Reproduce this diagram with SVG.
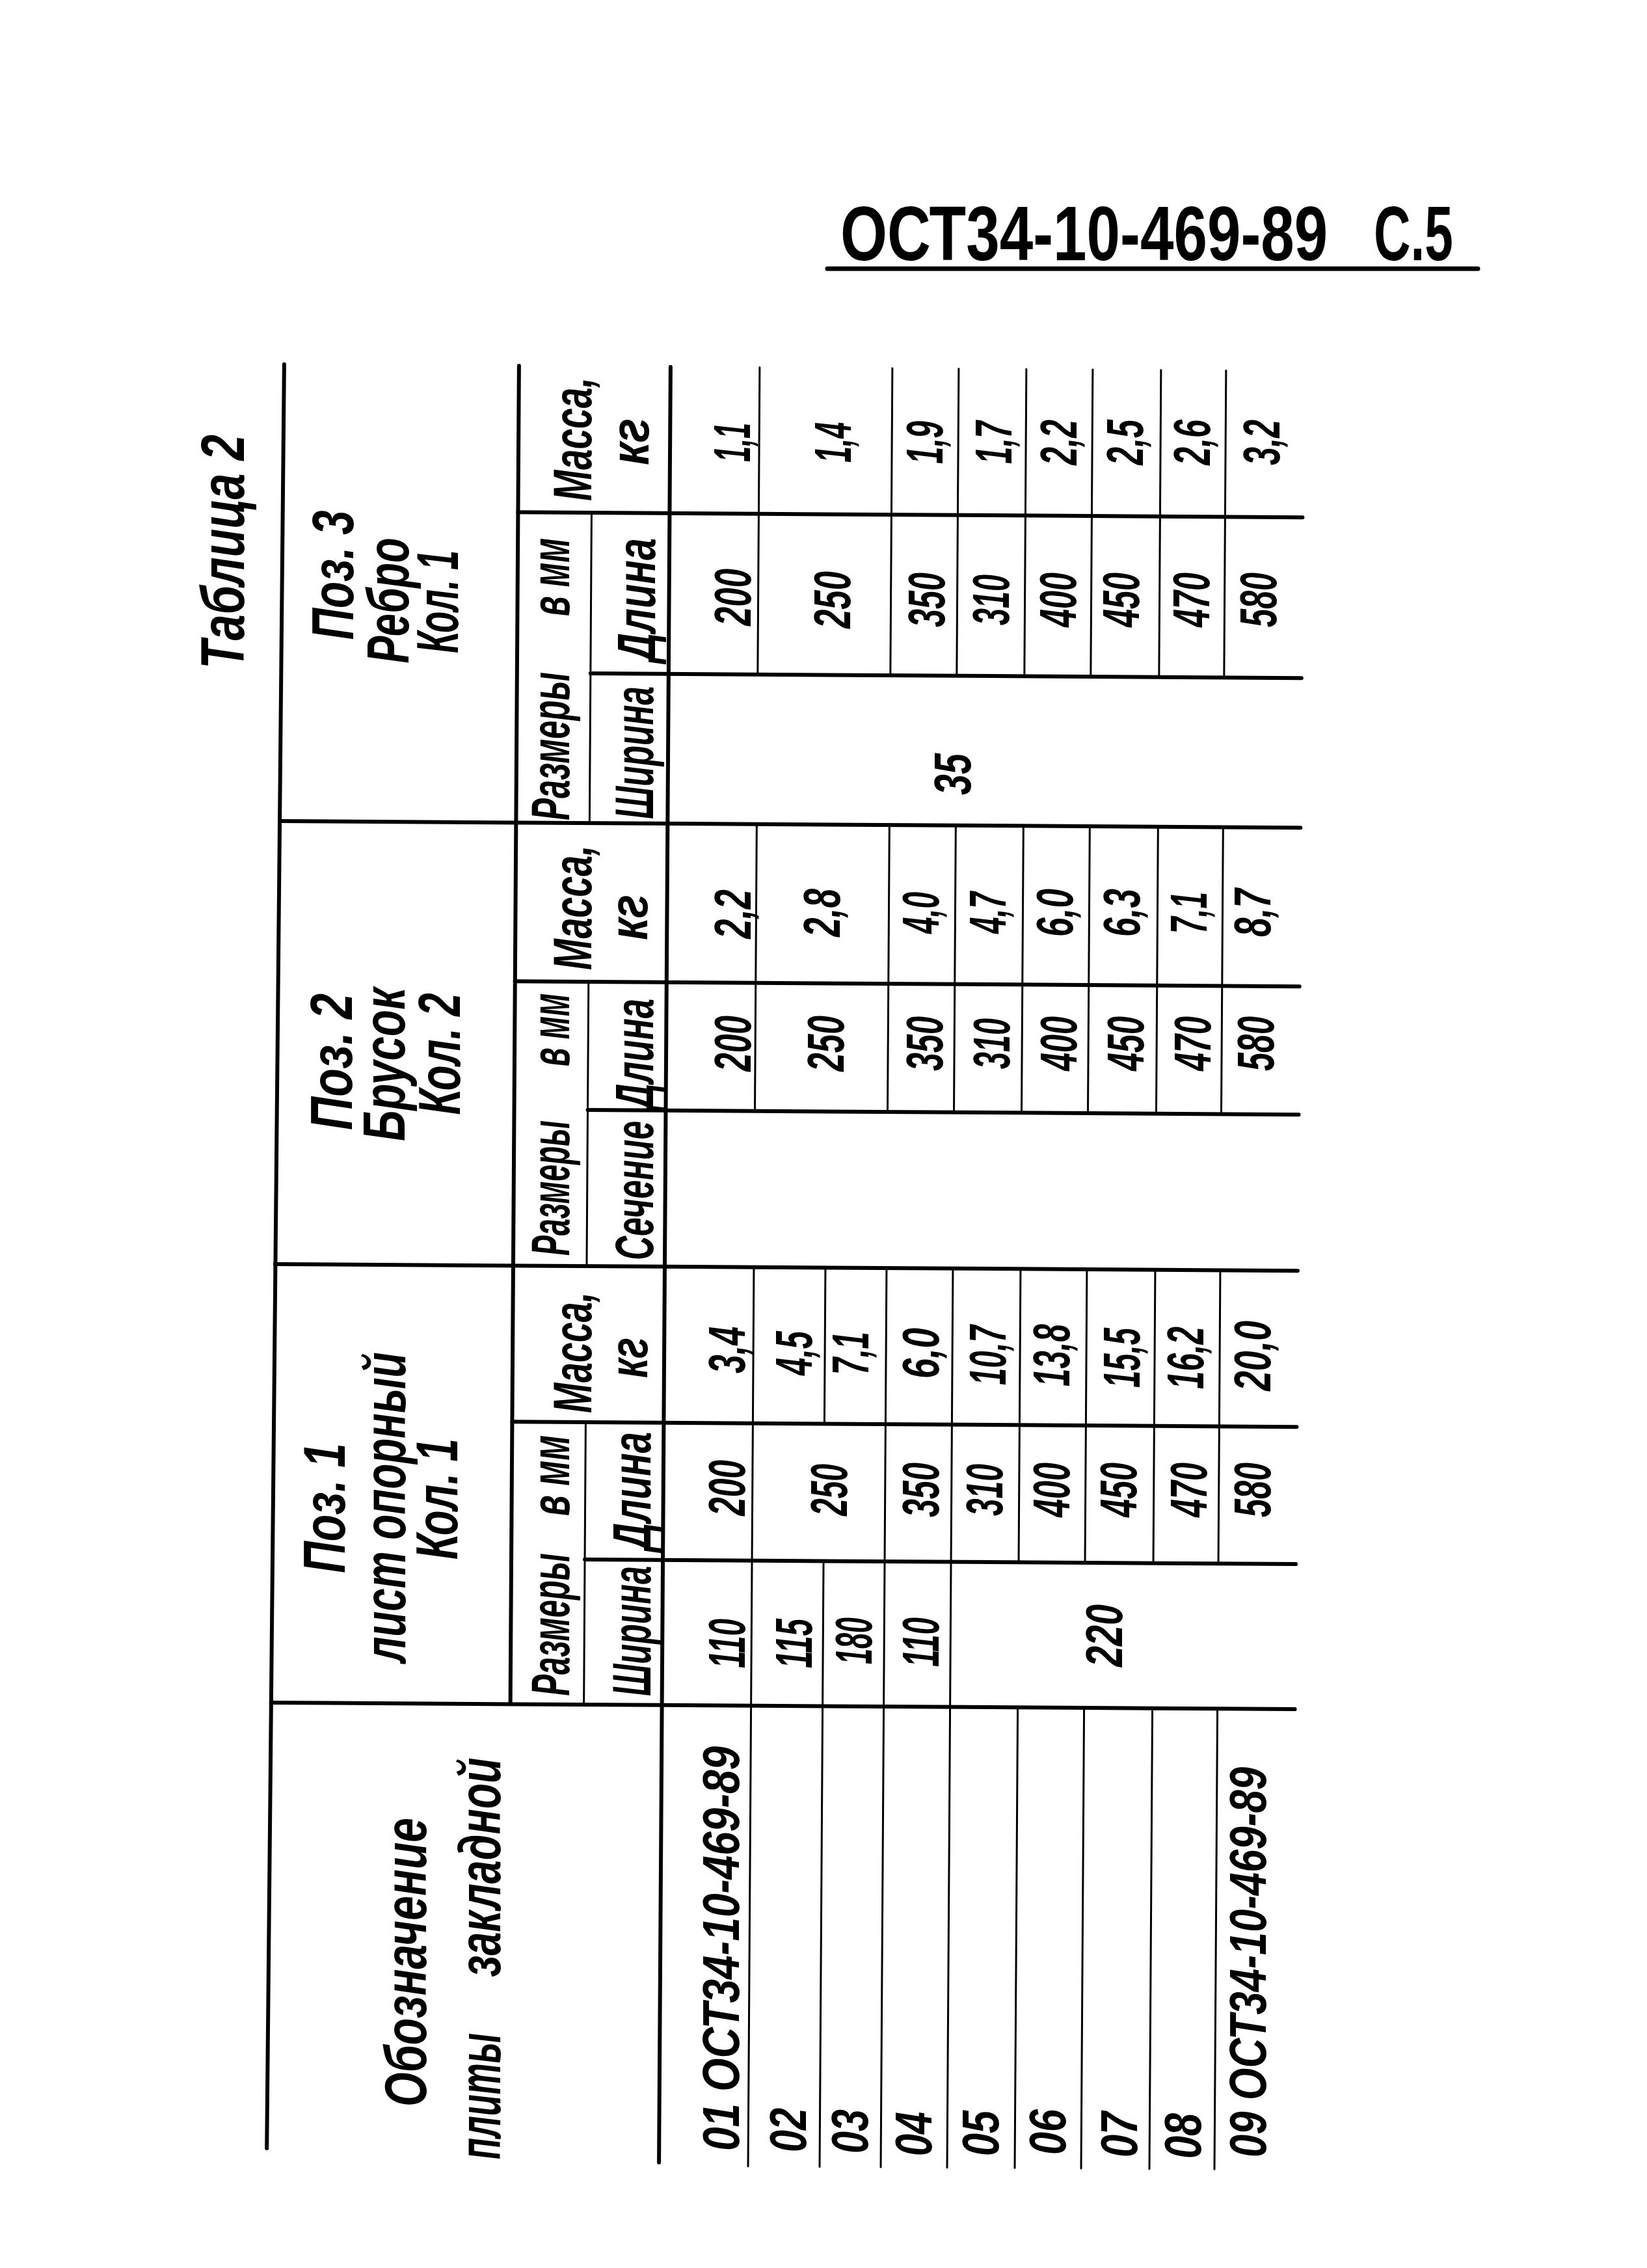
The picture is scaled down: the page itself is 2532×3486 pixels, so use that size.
<svg xmlns="http://www.w3.org/2000/svg" width="2532" height="3486" viewBox="0 0 2532 3486">
<style>
.th{stroke:#000;stroke-width:6;fill:none;stroke-linecap:round}
.tn{stroke:#000;stroke-width:3;fill:none;stroke-linecap:round}
text{font-family:"Liberation Sans","DejaVu Sans",sans-serif;fill:#000}
.r{font-style:italic;font-weight:bold;text-anchor:middle;dominant-baseline:central}
.s{font-style:italic;font-weight:bold;text-anchor:start;dominant-baseline:central}
.d{font-size:80px}
.h{font-size:84px}
.p{font-size:90px}
.ttl{font-size:118px;font-weight:bold}
</style>
<rect x="0" y="0" width="2532" height="3486" fill="#fff"/>

<g id="title">
<text class="ttl" transform="translate(1292 400) scale(0.785 1)">ОСТ34-10-469-89</text>
<text class="ttl" transform="translate(2112 400) scale(0.664 1)">С.5</text>
<line x1="1272" y1="413" x2="2272" y2="413" stroke="#000" stroke-width="7" stroke-linecap="round"/>
</g>

<g id="table-caption">
<text class="r" font-size="95" transform="translate(342 848) rotate(-90)" textLength="360" lengthAdjust="spacingAndGlyphs">Таблица 2</text>
</g>

<g id="grid" transform="rotate(0.37 1200 1940)">
<line class="th" x1="428" y1="565" x2="419" y2="3307"/>
<line class="th" x1="789" y1="565" x2="789" y2="2622"/>
<line class="th" x1="1022" y1="565" x2="1022" y2="3325"/>
<path class="tn" d="M902 790V1267M902 1511V1948M902 2188V2622"/>
<path class="tn" d="M1159 565V1037M1159 1267V1708M1159 1948V3330"/>
<path class="tn" d="M1269 1948V2188M1269 2399V3330"/>
<path class="tn" d="M1363 565V1037M1363 1267V1708M1363 1948V3330"/>
<path class="tn" d="M1465 565V1037M1465 1267V1708M1465 1948V3330"/>
<path class="tn" d="M1569 565V1037M1569 1267V1708M1569 1948V2399M1569 2622V3330"/>
<path class="tn" d="M1671 565V1037M1671 1267V1708M1671 1948V2399M1671 2622V3330"/>
<path class="tn" d="M1776 565V1037M1776 1267V1708M1776 1948V2399M1776 2622V3330"/>
<path class="tn" d="M1876 565V1037M1876 1267V1708M1876 1948V2399M1876 2622V3330"/>
<path class="th" d="M426 1267H1995M423 1948H1995M421 2622H1995"/>
<path class="th" d="M789 790H1995M789 1511H1995M789 2188H1995"/>
<path class="th" d="M902 1037H1995M902 1708H1995M902 2399H1995"/>
</g>

<g id="pos3">
<text class="r p" transform="translate(512 884) rotate(-90)" textLength="199" lengthAdjust="spacingAndGlyphs">Поз. 3</text>
<text class="r p" transform="translate(597 923) rotate(-90)" textLength="193" lengthAdjust="spacingAndGlyphs">Ребро</text>
<text class="r p" transform="translate(673 925) rotate(-90)" textLength="158" lengthAdjust="spacingAndGlyphs">Кол. 1</text>
<text class="r h" transform="translate(880 675) rotate(-90)" textLength="190" lengthAdjust="spacingAndGlyphs">Масса,</text>
<text class="r h" transform="translate(968 679) rotate(-90)" textLength="72" lengthAdjust="spacingAndGlyphs">кг</text>
<text class="r h" transform="translate(846 1147) rotate(-90)" textLength="228" lengthAdjust="spacingAndGlyphs">Размеры</text>
<text class="r h" transform="translate(846 887) rotate(-90)" textLength="120" lengthAdjust="spacingAndGlyphs">в мм</text>
<text class="r h" transform="translate(975 1157) rotate(-90)" textLength="204" lengthAdjust="spacingAndGlyphs">Ширина</text>
<text class="r h" transform="translate(978 922) rotate(-90)" textLength="190" lengthAdjust="spacingAndGlyphs">Длина</text>
<text class="r d" transform="translate(1125 680) rotate(-90)" textLength="60" lengthAdjust="spacingAndGlyphs">1,1</text>
<text class="r d" transform="translate(1280 680) rotate(-90)" textLength="62" lengthAdjust="spacingAndGlyphs">1,4</text>
<text class="r d" transform="translate(1421 680) rotate(-90)" textLength="66" lengthAdjust="spacingAndGlyphs">1,9</text>
<text class="r d" transform="translate(1527 680) rotate(-90)" textLength="66" lengthAdjust="spacingAndGlyphs">1,7</text>
<text class="r d" transform="translate(1627 680) rotate(-90)" textLength="70" lengthAdjust="spacingAndGlyphs">2,2</text>
<text class="r d" transform="translate(1729 680) rotate(-90)" textLength="70" lengthAdjust="spacingAndGlyphs">2,5</text>
<text class="r d" transform="translate(1832 680) rotate(-90)" textLength="70" lengthAdjust="spacingAndGlyphs">2,6</text>
<text class="r d" transform="translate(1939 680) rotate(-90)" textLength="70" lengthAdjust="spacingAndGlyphs">3,2</text>
<text class="r d" transform="translate(1126 918) rotate(-90)" textLength="88" lengthAdjust="spacingAndGlyphs">200</text>
<text class="r d" transform="translate(1279 922) rotate(-90)" textLength="88" lengthAdjust="spacingAndGlyphs">250</text>
<text class="r d" transform="translate(1424 922) rotate(-90)" textLength="84" lengthAdjust="spacingAndGlyphs">350</text>
<text class="r d" transform="translate(1523 922) rotate(-90)" textLength="78" lengthAdjust="spacingAndGlyphs">310</text>
<text class="r d" transform="translate(1626 922) rotate(-90)" textLength="84" lengthAdjust="spacingAndGlyphs">400</text>
<text class="r d" transform="translate(1723 922) rotate(-90)" textLength="84" lengthAdjust="spacingAndGlyphs">450</text>
<text class="r d" transform="translate(1831 922) rotate(-90)" textLength="84" lengthAdjust="spacingAndGlyphs">470</text>
<text class="r d" transform="translate(1934 922) rotate(-90)" textLength="84" lengthAdjust="spacingAndGlyphs">580</text>
<text class="r d" transform="translate(1464 1190) rotate(-90)" textLength="64" lengthAdjust="spacingAndGlyphs">35</text>
</g>

<g id="pos2">
<text class="r p" transform="translate(510 1632) rotate(-90)" textLength="210" lengthAdjust="spacingAndGlyphs">Поз. 2</text>
<text class="r p" transform="translate(591 1636) rotate(-90)" textLength="236" lengthAdjust="spacingAndGlyphs">Брусок</text>
<text class="r p" transform="translate(676 1620) rotate(-90)" textLength="187" lengthAdjust="spacingAndGlyphs">Кол. 2</text>
<text class="r h" transform="translate(880 1395) rotate(-90)" textLength="192" lengthAdjust="spacingAndGlyphs">Масса,</text>
<text class="r h" transform="translate(966 1410) rotate(-90)" textLength="70" lengthAdjust="spacingAndGlyphs">кг</text>
<text class="r h" transform="translate(846 1826) rotate(-90)" textLength="208" lengthAdjust="spacingAndGlyphs">Размеры</text>
<text class="r h" transform="translate(846 1583) rotate(-90)" textLength="112" lengthAdjust="spacingAndGlyphs">в мм</text>
<text class="r h" transform="translate(975 1830) rotate(-90)" textLength="214" lengthAdjust="spacingAndGlyphs">Сечение</text>
<text class="r h" transform="translate(975 1620) rotate(-90)" textLength="170" lengthAdjust="spacingAndGlyphs">Длина</text>
<text class="r d" transform="translate(1126 1405) rotate(-90)" textLength="76" lengthAdjust="spacingAndGlyphs">2,2</text>
<text class="r d" transform="translate(1263 1403) rotate(-90)" textLength="74" lengthAdjust="spacingAndGlyphs">2,8</text>
<text class="r d" transform="translate(1415 1403) rotate(-90)" textLength="64" lengthAdjust="spacingAndGlyphs">4,0</text>
<text class="r d" transform="translate(1518 1403) rotate(-90)" textLength="64" lengthAdjust="spacingAndGlyphs">4,7</text>
<text class="r d" transform="translate(1621 1403) rotate(-90)" textLength="74" lengthAdjust="spacingAndGlyphs">6,0</text>
<text class="r d" transform="translate(1724 1403) rotate(-90)" textLength="74" lengthAdjust="spacingAndGlyphs">6,3</text>
<text class="r d" transform="translate(1827 1403) rotate(-90)" textLength="64" lengthAdjust="spacingAndGlyphs">7,1</text>
<text class="r d" transform="translate(1925 1403) rotate(-90)" textLength="74" lengthAdjust="spacingAndGlyphs">8,7</text>
<text class="r d" transform="translate(1126 1604) rotate(-90)" textLength="86" lengthAdjust="spacingAndGlyphs">200</text>
<text class="r d" transform="translate(1269 1604) rotate(-90)" textLength="86" lengthAdjust="spacingAndGlyphs">250</text>
<text class="r d" transform="translate(1421 1604) rotate(-90)" textLength="84" lengthAdjust="spacingAndGlyphs">350</text>
<text class="r d" transform="translate(1524 1604) rotate(-90)" textLength="78" lengthAdjust="spacingAndGlyphs">310</text>
<text class="r d" transform="translate(1627 1604) rotate(-90)" textLength="84" lengthAdjust="spacingAndGlyphs">400</text>
<text class="r d" transform="translate(1730 1604) rotate(-90)" textLength="84" lengthAdjust="spacingAndGlyphs">450</text>
<text class="r d" transform="translate(1833 1604) rotate(-90)" textLength="84" lengthAdjust="spacingAndGlyphs">470</text>
<text class="r d" transform="translate(1930 1604) rotate(-90)" textLength="84" lengthAdjust="spacingAndGlyphs">580</text>
</g>

<g id="pos1">
<text class="r p" transform="translate(499 2318) rotate(-90)" textLength="200" lengthAdjust="spacingAndGlyphs">Поз. 1</text>
<text class="r p" transform="translate(592 2317) rotate(-90)" textLength="477" lengthAdjust="spacingAndGlyphs">лист опорный</text>
<text class="r p" transform="translate(672 2304) rotate(-90)" textLength="186" lengthAdjust="spacingAndGlyphs">Кол. 1</text>
<text class="r h" transform="translate(880 2079) rotate(-90)" textLength="186" lengthAdjust="spacingAndGlyphs">Масса,</text>
<text class="r h" transform="translate(966 2087) rotate(-90)" textLength="62" lengthAdjust="spacingAndGlyphs">кг</text>
<text class="r h" transform="translate(846 2497) rotate(-90)" textLength="219" lengthAdjust="spacingAndGlyphs">Размеры</text>
<text class="r h" transform="translate(846 2268) rotate(-90)" textLength="124" lengthAdjust="spacingAndGlyphs">в мм</text>
<text class="r h" transform="translate(971 2507) rotate(-90)" textLength="200" lengthAdjust="spacingAndGlyphs">Ширина</text>
<text class="r h" transform="translate(971 2292) rotate(-90)" textLength="182" lengthAdjust="spacingAndGlyphs">Длина</text>
<text class="r d" transform="translate(1117 2075) rotate(-90)" textLength="72" lengthAdjust="spacingAndGlyphs">3,4</text>
<text class="r d" transform="translate(1220 2080) rotate(-90)" textLength="68" lengthAdjust="spacingAndGlyphs">4,5</text>
<text class="r d" transform="translate(1307 2080) rotate(-90)" textLength="66" lengthAdjust="spacingAndGlyphs">7,1</text>
<text class="r d" transform="translate(1415 2080) rotate(-90)" textLength="78" lengthAdjust="spacingAndGlyphs">6,0</text>
<text class="r d" transform="translate(1518 2083) rotate(-90)" textLength="92" lengthAdjust="spacingAndGlyphs">10,7</text>
<text class="r d" transform="translate(1616 2083) rotate(-90)" textLength="96" lengthAdjust="spacingAndGlyphs">13,8</text>
<text class="r d" transform="translate(1724 2087) rotate(-90)" textLength="92" lengthAdjust="spacingAndGlyphs">15,5</text>
<text class="r d" transform="translate(1822 2087) rotate(-90)" textLength="96" lengthAdjust="spacingAndGlyphs">16,2</text>
<text class="r d" transform="translate(1925 2084) rotate(-90)" textLength="108" lengthAdjust="spacingAndGlyphs">20,0</text>
<text class="r d" transform="translate(1117 2287) rotate(-90)" textLength="86" lengthAdjust="spacingAndGlyphs">200</text>
<text class="r d" transform="translate(1274 2290) rotate(-90)" textLength="80" lengthAdjust="spacingAndGlyphs">250</text>
<text class="r d" transform="translate(1415 2290) rotate(-90)" textLength="84" lengthAdjust="spacingAndGlyphs">350</text>
<text class="r d" transform="translate(1513 2290) rotate(-90)" textLength="80" lengthAdjust="spacingAndGlyphs">310</text>
<text class="r d" transform="translate(1616 2290) rotate(-90)" textLength="84" lengthAdjust="spacingAndGlyphs">400</text>
<text class="r d" transform="translate(1719 2290) rotate(-90)" textLength="84" lengthAdjust="spacingAndGlyphs">450</text>
<text class="r d" transform="translate(1827 2290) rotate(-90)" textLength="84" lengthAdjust="spacingAndGlyphs">470</text>
<text class="r d" transform="translate(1925 2290) rotate(-90)" textLength="84" lengthAdjust="spacingAndGlyphs">580</text>
<text class="r d" transform="translate(1117 2526) rotate(-90)" textLength="76" lengthAdjust="spacingAndGlyphs">110</text>
<text class="r d" transform="translate(1220 2526) rotate(-90)" textLength="76" lengthAdjust="spacingAndGlyphs">115</text>
<text class="r d" transform="translate(1312 2522) rotate(-90)" textLength="72" lengthAdjust="spacingAndGlyphs">180</text>
<text class="r d" transform="translate(1415 2524) rotate(-90)" textLength="76" lengthAdjust="spacingAndGlyphs">110</text>
<text class="r d" transform="translate(1697 2514) rotate(-90)" textLength="96" lengthAdjust="spacingAndGlyphs">220</text>
</g>

<g id="designation">
<text class="r p" transform="translate(624 3016) rotate(-90)" textLength="444" lengthAdjust="spacingAndGlyphs">Обозначение</text>
<text class="r p" transform="translate(738 3222) rotate(-90)" textLength="194" lengthAdjust="spacingAndGlyphs">плиты</text>
<text class="r p" transform="translate(738 2870) rotate(-90)" textLength="337" lengthAdjust="spacingAndGlyphs">закладной</text>
<text class="s d" transform="translate(1108 3306) rotate(-90)" textLength="622" lengthAdjust="spacingAndGlyphs">01 ОСТ34-10-469-89</text>
<text class="s d" transform="translate(1211 3308) rotate(-90)" textLength="68" lengthAdjust="spacingAndGlyphs">02</text>
<text class="s d" transform="translate(1306 3310) rotate(-90)" textLength="68" lengthAdjust="spacingAndGlyphs">03</text>
<text class="s d" transform="translate(1404 3314) rotate(-90)" textLength="68" lengthAdjust="spacingAndGlyphs">04</text>
<text class="s d" transform="translate(1507 3314) rotate(-90)" textLength="70" lengthAdjust="spacingAndGlyphs">05</text>
<text class="s d" transform="translate(1610 3312) rotate(-90)" textLength="70" lengthAdjust="spacingAndGlyphs">06</text>
<text class="s d" transform="translate(1720 3316) rotate(-90)" textLength="70" lengthAdjust="spacingAndGlyphs">07</text>
<text class="s d" transform="translate(1818 3318) rotate(-90)" textLength="70" lengthAdjust="spacingAndGlyphs">08</text>
<text class="s d" transform="translate(1918 3316) rotate(-90)" textLength="600" lengthAdjust="spacingAndGlyphs">09 ОСТ34-10-469-89</text>
</g>
</svg>
